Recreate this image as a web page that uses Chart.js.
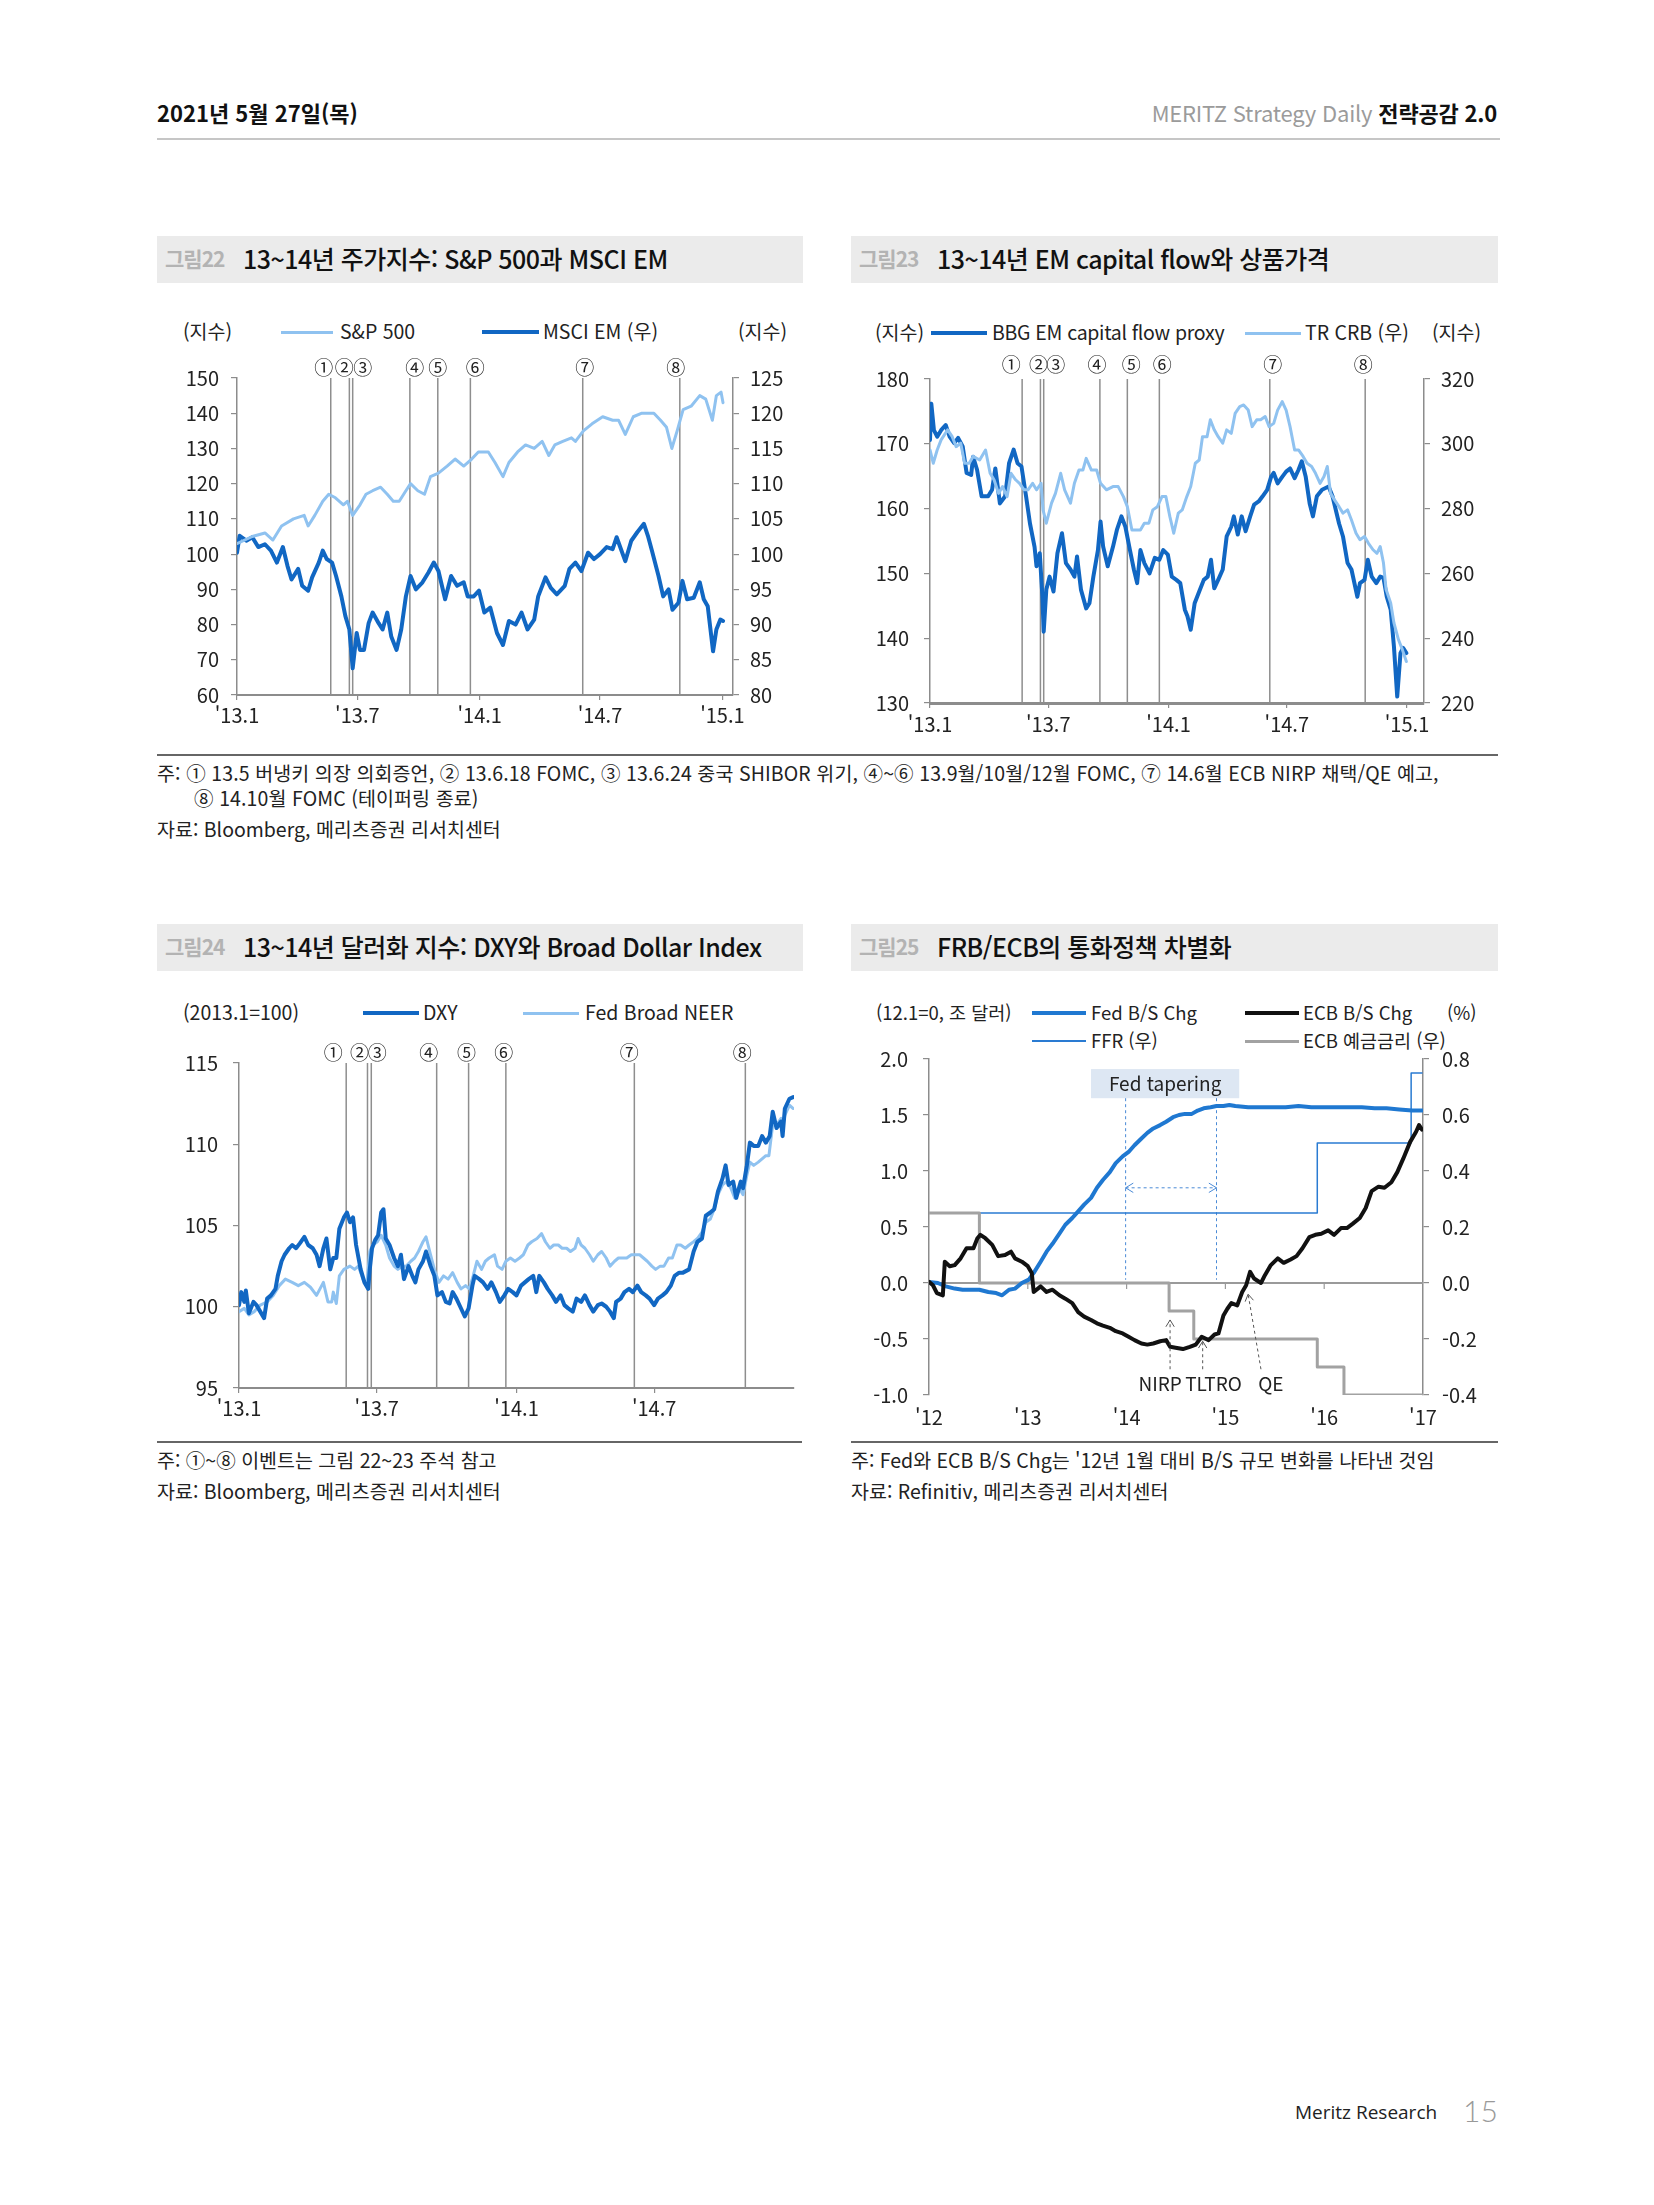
<!DOCTYPE html>
<html lang="ko">
<head>
<meta charset="utf-8">
<title>전략공감 2.0 - 15</title>
<script src="https://cdn.jsdelivr.net/npm/chart.js@4.4.1/dist/chart.umd.min.js"></script>
<style>
  html, body { margin: 0; padding: 0; background: #fff; }
  #page { position: relative; width: 1654px; height: 2205px; overflow: hidden;
          font-family: "Noto Sans CJK KR", "Noto Sans", sans-serif; color: #222; }
  .t { position: absolute; white-space: nowrap; line-height: 1; }
  .blk { position: absolute; }
  canvas { position: absolute; }
</style>
</head>
<body>
<div id="page"></div>
<script>
// ---- 공통: 이벤트 (2013.1.1 기준 경과일) ----
const evDays = [141, 169, 174, 260, 302, 351, 520, 666];
const evLabels = ['①', '②', '③', '④', '⑤', '⑥', '⑦', '⑧'];
const tickDays = [0, 181, 365, 546, 730];
const tickLabels = ["'13.1", "'13.7", "'14.1", "'14.7", "'15.1"];

// ---- 그림22: S&P 500 / MSCI EM ----
const spxDays = [0,23,42,54,67,85,101,107,117,129,138,148,160,166,174,185,194,204,216,226,235,244,254,261,272,282,291,303,316,328,341,353,363,378,388,400,409,422,434,447,459,469,478,490,503,509,521,534,550,565,574,584,596,609,621,627,637,646,654,662,671,683,696,705,715,721,728,731];
const spxVals = [103,105,106,104,108,110,111,108,111,115,117,116,114,115,111,114,117,118,119,117,115,115,118,120,118,117,122,123,125,127,125,127,129,129,126,122,126,129,131,130,132,128,131,132,133,132,135,137,139,138,138,134,139,140,140,140,138,136,130,135,141,142,145,144,138,145,146,143];
const emDays = [0,4,14,23,32,42,51,60,69,76,82,92,98,107,113,123,129,135,143,149,157,163,169,174,180,185,191,198,204,213,219,226,232,240,247,254,261,269,279,288,296,303,313,322,331,341,347,356,364,372,381,391,400,409,419,428,437,447,453,464,472,481,493,500,509,518,528,537,546,556,565,571,584,593,602,612,618,624,634,641,649,655,664,670,677,687,696,702,708,716,721,727,731];
const emVals = [100.2,102.6,101.9,102.4,101,101.4,100.5,98.8,101,98.3,96.4,97.9,95.5,94.8,96.7,98.8,100.5,99.3,98.8,96.9,94,91.2,89.3,83.8,88.8,86.4,86.4,90.2,91.7,90.2,89.3,91.7,88.3,86.4,89.3,94,96.9,95,96,97.4,98.8,97.6,93.6,96.9,95.5,96,94,94,94.8,91.7,92.4,88.8,87.1,90.5,90,91.7,89.3,90.7,94,96.7,95.2,94.3,95.5,97.9,98.8,97.6,100.2,99.3,100,101,100.7,102.4,99,101.9,103.1,104.3,102.6,100.5,96.9,94,95,92.1,93.1,96.2,93.6,93.8,96,93.6,92.6,86.2,89.3,90.7,90.5];

// ---- 그림23: BBG EM capital flow proxy / TR CRB ----
const bbgDays = [0,2,6,11,17,24,30,37,43,50,56,63,66,72,79,89,95,100,107,115,121,128,134,140,147,153,160,163,168,172,174,178,183,189,195,202,208,215,221,225,231,239,244,250,257,261,265,272,280,286,293,299,306,312,317,322,328,336,344,351,357,364,370,377,383,390,394,399,405,412,419,425,430,435,441,448,454,461,465,471,477,483,490,496,503,509,516,522,526,532,539,545,551,558,564,569,575,581,586,592,600,610,616,626,632,639,645,654,658,665,670,676,683,689,694,699,705,710,715,720,724,729];
const bbgVals = [170.6,176.2,172.1,171.1,172.1,172.9,171.1,170.1,170.9,169.6,165.5,165.2,168,166,161.9,161.9,162.9,166.2,160.8,161.9,167,169.1,167,166.5,161.9,157.7,154.1,151.1,153.1,146.4,141,147.5,149.5,147.2,153.1,156.2,151.6,150.6,149.5,152.6,147.5,144.6,145.4,149.5,153.6,158,154.1,151.1,154.1,156.7,158.8,157.2,153.6,150.6,148.5,153.6,151.6,150,152.4,152.1,153.6,152.9,149.5,149,148.5,144.4,143.4,141.3,145.4,147.2,149,149.5,152.1,147.7,149,150.6,155.7,157.2,158.8,156,158.8,156.5,158.8,160.6,161.1,161.9,162.9,164.9,165.5,163.9,164.9,165.7,166.2,164.7,166,167.3,164.9,160.8,158.8,161.9,162.9,163.4,161.9,157.7,155.7,151.6,150.6,146.4,148.5,149,152.1,149.5,148.5,149.5,149.3,146.4,144.4,138.7,131,137.7,138.5,137.7];
const crbDays = [0,5,11,17,27,34,40,47,53,60,66,76,85,92,98,105,111,118,124,131,137,144,150,157,163,170,173,178,186,192,200,206,215,221,228,234,239,247,255,261,270,280,288,296,302,309,315,322,328,335,341,348,355,361,367,373,380,386,393,399,406,412,417,424,429,435,441,448,454,461,467,474,480,487,493,500,506,513,519,526,532,539,545,551,558,564,571,577,584,590,597,603,608,613,619,626,632,639,645,652,658,665,671,678,684,689,694,698,705,710,717,723,729];
const crbVals = [298.1,294,298.1,301.2,304.3,302.2,299.1,300.2,294,294,296.1,295,298.1,290.9,288.9,284.7,286.8,283.7,290.9,288.9,287.8,285.8,285.8,287.8,285.8,287.8,279.6,275.5,281.7,284.7,290.9,285.8,281.7,287.8,291.9,291.9,295.5,291.9,291.9,287.8,285.8,286.8,286.8,283.7,280.6,273.4,273.4,273.4,275.5,275.5,279.6,280.6,283.7,283.7,277.6,272.4,278.6,279.6,283.7,286.8,294,295,302.2,302.2,307.4,304.3,302.2,300.2,304.3,303.2,309.4,311.5,312,310.4,305.3,307.4,307.4,308.4,305.3,306.3,310.4,313,310.4,305.3,298.1,298.1,296.1,294,293,290.9,287.8,289.9,293,284.7,282.7,280.6,278.6,279.6,276.5,272.4,270.4,271.4,269.3,267.3,266.2,268.3,263.2,255,250.9,244.7,239.5,236.4,232.8];

// ---- 그림24: DXY / Fed Broad NEER (2013.1=100) ----
const dxyDays = [0,3,7,9,13,19,23,28,33,37,42,48,51,56,60,66,70,75,80,86,91,97,102,106,111,115,120,124,128,132,138,142,146,150,154,160,165,170,172,175,179,183,187,190,193,198,204,209,213,217,223,228,232,236,242,246,252,257,261,267,272,277,281,286,291,297,302,307,310,316,321,327,332,338,343,349,354,360,365,371,376,381,387,391,395,401,406,412,417,423,428,433,439,444,450,455,461,466,472,477,483,488,493,496,502,507,513,518,524,529,535,540,546,551,557,562,568,573,579,584,592,598,603,609,614,620,625,630,636,640,644,650,654,660,663,668,672,677,683,688,693,698,702,707,713,715,718,724,729];
const dxyVals = [100.1,100.9,100.3,101,99.6,100.3,100.1,99.7,99.3,100.5,100.7,101.1,101.9,102.8,103.2,103.6,103.8,103.6,103.9,104.3,103.8,103.6,103.2,102.5,103.6,104.2,102.3,103,103,104.8,105.5,105.8,105.2,105.5,103.8,102.3,101.5,101.1,102.3,103.6,104.1,104.4,105.8,106,104.2,103.8,103,102.5,103.2,101.7,102.5,101.9,101.5,102.3,102.8,103.4,102.5,101.9,100.7,100.9,100.3,100.2,100.9,100.5,100,99.4,99.9,101.3,101.9,101.7,101.5,101.1,101.5,100.9,100.3,100.7,101.1,100.9,100.7,101.3,101.5,101.7,101.9,100.9,101.9,101.5,101.1,100.7,100.3,100.7,100.1,99.9,99.7,100.5,100.3,100.7,100.1,99.7,100.1,100.2,100,99.7,99.3,100.3,100.5,100.9,101.1,100.9,101.3,100.9,100.7,100.5,100.1,100.5,100.7,100.9,101.3,101.9,102.1,102.1,102.3,103.4,104,104.2,105.6,105.8,106,107.1,107.9,108.7,107.5,107.7,106.7,107.7,107.3,108.7,110.1,109.9,109.9,110.5,110.1,110.5,112,111,111.4,110.5,112.2,112.8,112.9];
const neerDays = [0,7,13,20,28,37,45,53,61,70,78,86,94,102,111,117,122,124,128,132,138,146,152,157,163,168,172,176,182,187,193,198,204,209,215,220,226,231,236,242,246,252,257,263,269,275,281,287,292,298,303,308,313,319,324,329,336,340,346,351,357,363,369,374,380,385,392,398,403,409,414,420,425,431,436,442,446,450,455,461,466,472,477,483,488,494,499,505,510,516,521,527,532,537,543,548,554,559,565,570,576,581,587,592,598,603,609,614,620,625,630,636,641,647,652,658,663,668,672,677,683,688,693,697,702,707,713,715,718,724,729];
const neerVals = [99.7,99.9,99.5,99.7,100.1,100.3,100.7,101.3,101.7,101.5,101.3,101.5,101.2,100.7,101.5,100.3,100.3,100.9,100.2,101.9,102.3,102.5,102.3,102.5,101.7,101.3,103.4,103.8,104,104.4,103.8,103,102.5,102.3,102.5,102.5,102.8,103,103.4,104,104.3,103.2,102.3,101.5,101.9,101.7,102.1,101.5,101.1,101.3,101.1,101.9,102.8,102.3,102.8,103,103.2,102.5,102.3,102.8,103,102.8,103,103.2,103.8,104,104.2,104.5,104,103.6,103.8,103.8,103.6,103.6,103.4,103.6,104.2,103.8,103.6,103.2,102.8,103.2,103.4,103,102.5,102.8,103,103,103,103.2,103.2,103.2,103,102.8,102.5,102.3,102.5,102.5,103,103,103.8,103.8,103.6,103.8,104,104.2,104.6,105.2,105.4,106,106.9,107.5,107.7,107.3,106.7,107.3,106.9,108.1,108.9,108.7,108.9,109.1,109.3,109.3,111.2,111.2,111.6,111,111.8,112.4,112.2];

// ---- 그림25: Fed / ECB B/S (조 달러), FFR / ECB 예금금리 (%) ----
const fedYears = [2012,2012.09,2012.17,2012.26,2012.34,2012.43,2012.51,2012.6,2012.68,2012.74,2012.81,2012.87,2012.94,2013.01,2013.06,2013.13,2013.19,2013.25,2013.32,2013.38,2013.45,2013.51,2013.57,2013.64,2013.7,2013.76,2013.83,2013.89,2013.96,2014.02,2014.08,2014.15,2014.21,2014.27,2014.34,2014.4,2014.47,2014.53,2014.59,2014.66,2014.72,2014.78,2014.85,2014.91,2014.98,2015.04,2015.1,2015.23,2015.36,2015.49,2015.61,2015.74,2015.87,2016,2016.12,2016.25,2016.38,2016.51,2016.63,2016.76,2016.89,2016.99];
const fedBS = [0.01,0,-0.03,-0.05,-0.06,-0.06,-0.06,-0.08,-0.09,-0.11,-0.06,-0.05,0,0.03,0.09,0.19,0.28,0.35,0.44,0.52,0.58,0.64,0.7,0.76,0.85,0.92,0.99,1.07,1.13,1.17,1.23,1.29,1.34,1.38,1.41,1.44,1.48,1.5,1.51,1.51,1.54,1.56,1.57,1.58,1.58,1.59,1.58,1.57,1.57,1.57,1.57,1.58,1.57,1.57,1.57,1.57,1.57,1.56,1.56,1.55,1.54,1.54];
const ecbYears = [2012,2012.04,2012.08,2012.14,2012.16,2012.21,2012.26,2012.32,2012.38,2012.45,2012.49,2012.52,2012.57,2012.64,2012.7,2012.77,2012.83,2012.87,2012.94,2013,2013.04,2013.06,2013.13,2013.19,2013.25,2013.32,2013.38,2013.45,2013.51,2013.57,2013.64,2013.7,2013.76,2013.83,2013.89,2013.96,2014.02,2014.08,2014.15,2014.21,2014.27,2014.34,2014.4,2014.44,2014.51,2014.57,2014.64,2014.7,2014.76,2014.83,2014.89,2014.93,2014.98,2015.02,2015.06,2015.12,2015.17,2015.21,2015.25,2015.29,2015.36,2015.4,2015.46,2015.53,2015.59,2015.66,2015.72,2015.78,2015.85,2015.91,2015.97,2016.04,2016.1,2016.17,2016.23,2016.29,2016.36,2016.42,2016.48,2016.55,2016.61,2016.68,2016.74,2016.8,2016.87,2016.93,2016.96,2016.99];
const ecbBS = [0.01,-0.02,-0.09,-0.11,0.19,0.15,0.16,0.22,0.31,0.31,0.40,0.43,0.40,0.34,0.24,0.25,0.28,0.22,0.19,0.15,0.09,-0.08,-0.03,-0.08,-0.06,-0.11,-0.14,-0.18,-0.26,-0.30,-0.33,-0.36,-0.38,-0.40,-0.43,-0.45,-0.48,-0.51,-0.54,-0.55,-0.54,-0.52,-0.51,-0.57,-0.58,-0.59,-0.57,-0.55,-0.48,-0.51,-0.46,-0.45,-0.29,-0.23,-0.18,-0.20,-0.08,-0.02,0.10,0.04,0.0,0.07,0.16,0.22,0.18,0.21,0.24,0.31,0.41,0.43,0.44,0.47,0.43,0.49,0.49,0.53,0.58,0.67,0.82,0.86,0.85,0.90,0.99,1.11,1.26,1.35,1.41,1.37];
// 금리 변경 시점과 새 금리
const ffrYears = [2012, 2015.93, 2016.88, 2016.99];
const ffrRate = [0.25, 0.5, 0.75, 0.75];
const ecbRateYears = [2012, 2012.51, 2014.43, 2014.68, 2015.93, 2016.2, 2016.99];
const ecbRate = [0.25, 0, -0.1, -0.2, -0.3, -0.4, -0.4];
const yearTicks = [2012, 2013, 2014, 2015, 2016, 2017];
const yearLabels = ["'12", "'13", "'14", "'15", "'16", "'17"];
const taper = [2013.99, 2014.91];        // 테이퍼링 발표 ~ 종료
const ecbNotes = [                       // 라벨, 화살표 시점, 라벨 위치
  { label: 'NIRP', at: 2014.44, tip: -0.33, lx: 2014.34 },
  { label: 'TLTRO', at: 2014.77, tip: -0.52, lx: 2014.88 },
  { label: 'QE', at: 2015.23, tip: -0.1, lx: 2015.46, from: 2015.36 }
];

// ---- 스타일 ----
const DARK = '#1167c3', LIGHT = '#8fc2f0', EVT = '#8e8e8e', AXIS = '#8c8c8c';
const FED = '#1f78d1', FFR = '#2a7bd2', ECB = '#111111', ECBR = '#a2a2a2';
const FONT = '"Noto Sans CJK KR", "Noto Sans", sans-serif';
const TICK = 20, LEG = 19.5, NOTE = 19.5;
Chart.defaults.font.family = FONT;
Chart.defaults.color = '#222';

const page = document.getElementById('page');

function txt(html, x, cy, size, css) {
  const d = document.createElement('div');
  d.className = 't';
  d.innerHTML = html;
  d.style.cssText = `left:${x}px;top:${cy - size * 0.56}px;font-size:${size}px;` + (css || '');
  page.appendChild(d);
  return d;
}

function blk(x, y, w, h, bg) {
  const d = document.createElement('div');
  d.className = 'blk';
  d.style.cssText = `left:${x}px;top:${y}px;width:${w}px;height:${h}px;background:${bg};`;
  page.appendChild(d);
}

function key(x, cy, w, h, color) { blk(x, cy - h / 2, w, h, color); }

function series(xs, ys, color, width, axis) {
  return {
    data: xs.map((x, i) => ({ x, y: ys[i] })),
    borderColor: color, borderWidth: width, yAxisID: axis || 'y',
    pointRadius: 0, fill: false, tension: 0,
    borderJoinStyle: 'round', borderCapStyle: 'round'
  };
}

function yScale(o) {
  return {
    type: 'linear', position: o.pos || 'left', min: o.min, max: o.max,
    afterFit: s => { s.width = o.w; },
    ticks: { stepSize: o.step, padding: o.pad, color: '#222', font: { size: TICK },
             callback: o.fmt || (v => v) },
    grid: { drawOnChartArea: false, tickLength: 6, color: AXIS, lineWidth: 1.2 },
    border: { color: AXIS, width: 1.5 }
  };
}

function xScale(o) {
  return {
    type: 'linear', min: o.min, max: o.max,
    afterFit: s => { s.height = o.h; },
    afterBuildTicks: s => { s.ticks = o.ticks.map(v => ({ value: v })); },
    ticks: { autoSkip: false, maxRotation: 0, padding: o.pad, color: '#222', font: { size: TICK },
             callback: (v, i) => o.labels[i] },
    grid: { display: o.grid !== false, drawOnChartArea: false, tickLength: 5, color: AXIS, lineWidth: 1.2 },
    border: { display: o.border !== false, color: AXIS, width: o.bw || 2 }
  };
}

function makeChart(plot, m, datasets, scales, plugins, hasRight) {
  const W = plot.r - plot.l + m.l + m.r, H = plot.b - plot.t + m.t + m.b;
  const c = document.createElement('canvas');
  c.width = W; c.height = H;
  c.style.cssText = `left:${plot.l - m.l}px;top:${plot.t - m.t}px;width:${W}px;height:${H}px;`;
  page.appendChild(c);
  return new Chart(c, {
    type: 'line',
    data: { datasets },
    options: {
      responsive: false, animation: false, events: [],
      layout: { padding: { top: m.t, left: 0, right: hasRight ? 0 : m.r, bottom: 0 } },
      plugins: { legend: { display: false }, tooltip: { enabled: false } },
      scales
    },
    plugins: plugins || []
  });
}

// 이벤트 세로선 + 번호
function eventPlugin(shifts, gap) {
  return {
    id: 'events',
    beforeDatasetsDraw(chart) {
      const { ctx, chartArea: a, scales: { x } } = chart;
      ctx.save();
      ctx.strokeStyle = EVT;
      ctx.lineWidth = 1.5;
      evDays.forEach(d => {
        const px = x.getPixelForValue(d);
        ctx.beginPath(); ctx.moveTo(px, a.top); ctx.lineTo(px, a.bottom); ctx.stroke();
      });
      ctx.fillStyle = '#222';
      ctx.font = '19px ' + FONT;
      ctx.textAlign = 'center';
      ctx.textBaseline = 'middle';
      evDays.forEach((d, i) => ctx.fillText(evLabels[i], x.getPixelForValue(d) + shifts[i], a.top - gap));
      ctx.restore();
    }
  };
}

// ---------- 머리글 ----------
txt('2021년 5월 27일(목)', 157, 113, 22, 'font-weight:bold;color:#111;');
const hr = txt('<span style="color:#9b9b9b">MERITZ Strategy Daily</span> <b style="color:#111">전략공감 2.0</b>', 0, 113, 22, 'letter-spacing:-0.2px;');
hr.style.left = 'auto'; hr.style.right = (1654 - 1497) + 'px';
blk(157, 138, 1343, 2, '#c6c6c6');

// ---------- 제목 바 ----------
function titleBar(x, y, w, num, title) {
  blk(x, y, w, 47, '#ebebeb');
  txt(num, x + 8, y + 24, 21, 'font-weight:bold;color:#b3b3b3;letter-spacing:-1px;');
  txt(title, x + 86, y + 24, 25, 'font-weight:500;color:#111;letter-spacing:-0.5px;');
}
titleBar(157, 236, 646, '그림22', '13~14년 주가지수: S&amp;P 500과 MSCI EM');
titleBar(851, 236, 647, '그림23', '13~14년 EM capital flow와 상품가격');
titleBar(157, 924, 646, '그림24', '13~14년 달러화 지수: DXY와 Broad Dollar Index');
titleBar(851, 924, 647, '그림25', 'FRB/ECB의 통화정책 차별화');

// ---------- 그림22 ----------
txt('(지수)', 183, 332, LEG);
key(281, 332, 52, 3, LIGHT);
txt('S&amp;P 500', 340, 332, LEG);
key(482, 332, 57, 4.5, DARK);
txt('MSCI EM (우)', 543, 332, LEG);
txt('(지수)', 738, 332, LEG);

makeChart({ l: 237, r: 733, t: 378, b: 695 }, { l: 60, r: 60, t: 30, b: 36 },
  [series(spxDays, spxVals, LIGHT, 3), series(emDays, emVals, DARK, 4, 'y1')],
  {
    x: xScale({ min: 0, max: 746, ticks: tickDays, labels: tickLabels, h: 36, pad: 3 }),
    y: yScale({ min: 60, max: 150, step: 10, w: 60, pad: 12 }),
    y1: yScale({ pos: 'right', min: 80, max: 125, step: 5, w: 60, pad: 11 })
  },
  [eventPlugin([-7, -5, 10, 5, 0, 5, 2, -4], 10)], true);

// ---------- 그림23 ----------
txt('(지수)', 875, 333, LEG);
key(931, 333, 56, 4.5, DARK);
txt('BBG EM capital flow proxy', 992, 333, LEG, 'letter-spacing:-0.3px;');
key(1245, 333, 56, 3, LIGHT);
txt('TR CRB (우)', 1305, 333, LEG);
txt('(지수)', 1432, 333, LEG);

makeChart({ l: 930, r: 1424, t: 379, b: 703 }, { l: 65, r: 65, t: 30, b: 36 },
  [series(crbDays, crbVals, LIGHT, 3, 'y1'), series(bbgDays, bbgVals, DARK, 4)],
  {
    x: xScale({ min: 0, max: 756, ticks: tickDays, labels: tickLabels, h: 36, pad: 4, bw: 3 }),
    y: yScale({ min: 130, max: 180, step: 10, w: 65, pad: 15 }),
    y1: yScale({ pos: 'right', min: 220, max: 320, step: 20, w: 65, pad: 11 })
  },
  [eventPlugin([-11, -2, 12, -3, 4, 3, 3, -2], 14)], true);

// 그림22~23 주석
blk(157, 754, 1341, 1.5, '#666');
txt('주: ① 13.5 버냉키 의장 의회증언, ② 13.6.18 FOMC, ③ 13.6.24 중국 SHIBOR 위기, ④~⑥ 13.9월/10월/12월 FOMC, ⑦ 14.6월 ECB NIRP 채택/QE 예고,', 157, 774, NOTE, 'letter-spacing:0.1px;');
txt('⑧ 14.10월 FOMC (테이퍼링 종료)', 194, 799, NOTE, 'letter-spacing:0.1px;');
txt('자료: Bloomberg, 메리츠증권 리서치센터', 157, 830, NOTE);

// ---------- 그림24 ----------
txt('(2013.1=100)', 183, 1013, LEG);
key(363, 1013, 56, 4.5, DARK);
txt('DXY', 423, 1013, LEG);
key(523, 1013, 56, 3, LIGHT);
txt('Fed Broad NEER', 585, 1013, LEG);

makeChart({ l: 239, r: 794, t: 1063, b: 1388 }, { l: 65, r: 20, t: 30, b: 36 },
  [series(dxyDays, dxyVals, DARK, 4), series(neerDays, neerVals, LIGHT, 3)],
  {
    x: xScale({ min: 0, max: 730, ticks: tickDays.slice(0, 4), labels: tickLabels, h: 36, pad: 3 }),
    y: yScale({ min: 95, max: 115, step: 5, w: 65, pad: 15 })
  },
  [eventPlugin([-13, -8, 6, -8, -2, -2, -5, -3], 10)], false);

// ---------- 그림25 ----------
txt('(12.1=0, 조 달러)', 876, 1013, 18.5);
key(1032, 1013, 54, 4.5, FED);
txt('Fed B/S Chg', 1091, 1013, 18.5);
key(1245, 1013, 54, 4.5, ECB);
txt('ECB B/S Chg', 1303, 1013, 18.5);
txt('(%)', 1447, 1013, 18.5);
key(1032, 1041, 54, 1.5, FFR);
txt('FFR (우)', 1091, 1041, 18.5);
key(1245, 1041, 54, 3, ECBR);
txt('ECB 예금금리 (우)', 1303, 1041, 18.5);

function arrowHead(ctx, x, y, ang, size) {
  ctx.beginPath();
  ctx.moveTo(x - size * Math.cos(ang - 0.55), y - size * Math.sin(ang - 0.55));
  ctx.lineTo(x, y);
  ctx.lineTo(x - size * Math.cos(ang + 0.55), y - size * Math.sin(ang + 0.55));
  ctx.stroke();
}

const policyPlugin = {
  id: 'policy',
  beforeDatasetsDraw(chart) {
    const { ctx, chartArea: a, scales: { x, y } } = chart;
    const X = v => x.getPixelForValue(v), Y = v => y.getPixelForValue(v);
    ctx.save();
    // 0선과 연도 눈금
    ctx.strokeStyle = '#9a9a9a';
    ctx.lineWidth = 2;
    ctx.beginPath(); ctx.moveTo(a.left, Y(0)); ctx.lineTo(a.right, Y(0)); ctx.stroke();
    ctx.lineWidth = 1.2;
    yearTicks.slice(1, -1).forEach(v => {
      ctx.beginPath(); ctx.moveTo(X(v), Y(0)); ctx.lineTo(X(v), Y(0) + 6); ctx.stroke();
    });
    // 테이퍼링 박스
    const bx0 = X(taper[0] - 0.35), bx1 = X(taper[1] + 0.23);
    ctx.fillStyle = '#dde7f3';
    ctx.fillRect(bx0, Y(1.91), bx1 - bx0, Y(1.65) - Y(1.91));
    ctx.fillStyle = '#222';
    ctx.font = '19px ' + FONT;
    ctx.textAlign = 'center';
    ctx.textBaseline = 'middle';
    ctx.fillText('Fed tapering', (bx0 + bx1) / 2, Y(1.78));
    // 테이퍼링 기간 점선
    ctx.strokeStyle = '#4a8ad6';
    ctx.lineWidth = 1;
    ctx.setLineDash([3, 3]);
    taper.forEach(t => {
      ctx.beginPath(); ctx.moveTo(X(t), Y(1.65)); ctx.lineTo(X(t), Y(0.03)); ctx.stroke();
    });
    ctx.beginPath(); ctx.moveTo(X(taper[0]), Y(0.85)); ctx.lineTo(X(taper[1]), Y(0.85)); ctx.stroke();
    ctx.setLineDash([]);
    arrowHead(ctx, X(taper[0]), Y(0.85), Math.PI, 9);
    arrowHead(ctx, X(taper[1]), Y(0.85), 0, 9);
    ctx.restore();
  },
  afterDatasetsDraw(chart) {
    const { ctx, scales: { x, y } } = chart;
    const X = v => x.getPixelForValue(v), Y = v => y.getPixelForValue(v);
    ctx.save();
    ctx.strokeStyle = '#555';
    ctx.lineWidth = 1;
    ecbNotes.forEach(n => {
      const x0 = X(n.from || n.at), y0 = Y(-0.77), x1 = X(n.at), y1 = Y(n.tip);
      ctx.setLineDash([3, 3]);
      ctx.beginPath(); ctx.moveTo(x0, y0); ctx.lineTo(x1, y1); ctx.stroke();
      ctx.setLineDash([]);
      arrowHead(ctx, x1, y1, Math.atan2(y1 - y0, x1 - x0), 8);
    });
    ctx.fillStyle = '#222';
    ctx.font = '19px ' + FONT;
    ctx.textAlign = 'center';
    ctx.textBaseline = 'middle';
    ecbNotes.forEach(n => ctx.fillText(n.label, X(n.lx), Y(-0.9)));
    ctx.restore();
  }
};

makeChart({ l: 929, r: 1423, t: 1059, b: 1395 }, { l: 75, r: 80, t: 30, b: 36 },
  [
    series(ecbYears, ecbBS, ECB, 4),
    series(fedYears, fedBS, FED, 4),
    Object.assign(series(ecbRateYears, ecbRate, ECBR, 3, 'y1'), { stepped: true }),
    Object.assign(series(ffrYears, ffrRate, FFR, 1.5, 'y1'), { stepped: true })
  ],
  {
    x: xScale({ min: 2012, max: 2017, ticks: yearTicks, labels: yearLabels, h: 36, pad: 5, grid: false, border: false }),
    y: yScale({ min: -1, max: 2, step: 0.5, w: 75, pad: 15, fmt: v => v.toFixed(1) }),
    y1: yScale({ pos: 'right', min: -0.4, max: 0.8, step: 0.2, w: 80, pad: 13, fmt: v => v.toFixed(1) })
  },
  [policyPlugin], true);

// 그림24~25 주석
blk(157, 1441, 645, 1.5, '#666');
blk(851, 1441, 647, 1.5, '#666');
txt('주: ①~⑧ 이벤트는 그림 22~23 주석 참고', 157, 1461, NOTE);
txt('자료: Bloomberg, 메리츠증권 리서치센터', 157, 1492, NOTE);
txt("주: Fed와 ECB B/S Chg는 '12년 1월 대비 B/S 규모 변화를 나타낸 것임", 851, 1461, NOTE);
txt('자료: Refinitiv, 메리츠증권 리서치센터', 851, 1492, NOTE);

// ---------- 바닥글 ----------
txt('Meritz Research', 1295, 2114, 19, 'font-family:"Open Sans","Noto Sans",sans-serif;color:#222;');
txt('15', 1463, 2112, 30, 'font-family:Lato,"Noto Sans",sans-serif;font-weight:300;color:#999;');
</script>
</body>
</html>
